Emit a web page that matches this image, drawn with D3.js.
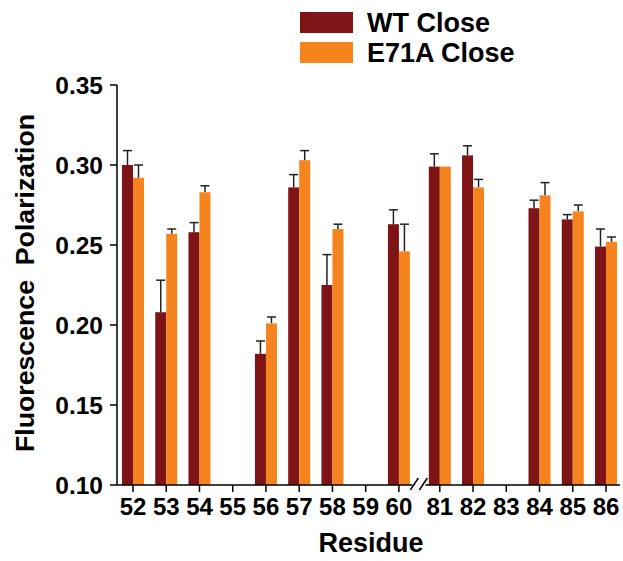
<!DOCTYPE html>
<html>
<head>
<meta charset="utf-8">
<script src="https://cdn.jsdelivr.net/npm/d3@7"></script>
<style>
  body { margin: 0; background: #fff; }
  text { font-family: "Liberation Sans", Arial, sans-serif; font-weight: bold; fill: #000; }
</style>
</head>
<body>
<div id="chart"></div>
<script>
// 数据
var residues = ["52", "53", "54", "55", "56", "57", "58", "59", "60", "81", "82", "83", "84", "85", "86"];
var wtValues   = [0.300, 0.208, 0.258, null, 0.182, 0.286, 0.225, null, 0.263, 0.299, 0.306, null, 0.273, 0.266, 0.249];
var wtErrors   = [0.009, 0.020, 0.006, null, 0.008, 0.008, 0.019, null, 0.009, 0.008, 0.006, null, 0.005, 0.003, 0.011];
var e71aValues = [0.292, 0.257, 0.283, null, 0.201, 0.303, 0.260, null, 0.246, 0.299, 0.286, null, 0.281, 0.271, 0.252];
var e71aErrors = [0.008, 0.003, 0.004, null, 0.004, 0.006, 0.003, null, 0.017, 0.000, 0.005, null, 0.008, 0.004, 0.003];
var yTicks = [0.10, 0.15, 0.20, 0.25, 0.30, 0.35];
var seriesNames = ["WT Close", "E71A Close"];
var colors = ["#7f1416", "#f5841f"];

var width = 623, height = 561;
var breakGap = 0.23; // 60 和 81 之间的额外间距

var svg = d3.select("#chart").append("svg")
    .attr("width", width)
    .attr("height", height);

// 比例尺
function slot(i) { return i > 8 ? i + breakGap : i; }
var x = d3.scaleLinear().domain([0, residues.length - 1 + breakGap]).range([133, 606]);
var y = d3.scaleLinear().domain([0.10, 0.35]).range([485, 85]);
var barW = 11;

// 柱子
var series = [
    { vals: wtValues, errs: wtErrors, color: colors[0], off: -barW },
    { vals: e71aValues, errs: e71aErrors, color: colors[1], off: 0 }
];
series.forEach(function(s) {
    var g = svg.append("g");
    residues.forEach(function(r, i) {
        if (s.vals[i] == null) return;
        var x0 = x(slot(i)) + s.off;
        var cx = x0 + barW / 2;
        var top = y(s.vals[i]);
        var errTop = y(s.vals[i] + s.errs[i]);
        if (s.errs[i] > 0) {
            g.append("line").attr("x1", cx).attr("x2", cx).attr("y1", top).attr("y2", errTop)
                .attr("stroke", "#222").attr("stroke-width", 1.5);
            g.append("line").attr("x1", cx - 4.5).attr("x2", cx + 4.5).attr("y1", errTop).attr("y2", errTop)
                .attr("stroke", "#222").attr("stroke-width", 1.5);
        }
        g.append("rect")
            .attr("x", x0).attr("y", top)
            .attr("width", barW).attr("height", y(0.10) - top)
            .attr("fill", s.color);
    });
});

// y 轴
svg.append("line").attr("x1", 117).attr("x2", 117).attr("y1", y(0.35)).attr("y2", y(0.10))
    .attr("stroke", "#000").attr("stroke-width", 1.5);
yTicks.forEach(function(t) {
    svg.append("line").attr("x1", 110).attr("x2", 117).attr("y1", y(t)).attr("y2", y(t))
        .attr("stroke", "#000").attr("stroke-width", 1.5);
    svg.append("text").attr("x", 103).attr("y", y(t) + 8.5)
        .attr("text-anchor", "end").attr("font-size", 24.5).text(t.toFixed(2));
});

// x 轴（带断点）
var breakX = (x(8) + x(9 + breakGap)) / 2;
svg.append("line").attr("x1", 117).attr("x2", breakX - 7).attr("y1", 485).attr("y2", 485)
    .attr("stroke", "#000").attr("stroke-width", 1.5);
svg.append("line").attr("x1", breakX + 6).attr("x2", 620).attr("y1", 485).attr("y2", 485)
    .attr("stroke", "#000").attr("stroke-width", 1.5);
[-5, 4].forEach(function(d) {
    svg.append("line")
        .attr("x1", breakX + d - 4).attr("x2", breakX + d + 4)
        .attr("y1", 490).attr("y2", 478)
        .attr("stroke", "#000").attr("stroke-width", 1.5);
});
residues.forEach(function(r, i) {
    var px = x(slot(i));
    svg.append("line").attr("x1", px).attr("x2", px).attr("y1", 485).attr("y2", 492)
        .attr("stroke", "#000").attr("stroke-width", 1.5);
    svg.append("text").attr("x", px).attr("y", 515)
        .attr("text-anchor", "middle").attr("font-size", 24).text(r);
});

// 轴标题
svg.append("text").attr("x", 371).attr("y", 552).attr("text-anchor", "middle")
    .attr("font-size", 27).text("Residue");
svg.append("text").attr("transform", "translate(34,283) rotate(-90)")
    .attr("text-anchor", "middle").attr("font-size", 26.7)
    .attr("xml:space", "preserve").style("white-space", "pre")
    .text("Fluorescence  Polarization");

// 图例
seriesNames.forEach(function(name, i) {
    svg.append("rect").attr("x", 300).attr("y", 12 + i * 30)
        .attr("width", 53).attr("height", 21).attr("fill", colors[i]);
    svg.append("text").attr("x", 367).attr("y", 31.5 + i * 30)
        .attr("font-size", 27).text(name);
});
</script>
</body>
</html>
